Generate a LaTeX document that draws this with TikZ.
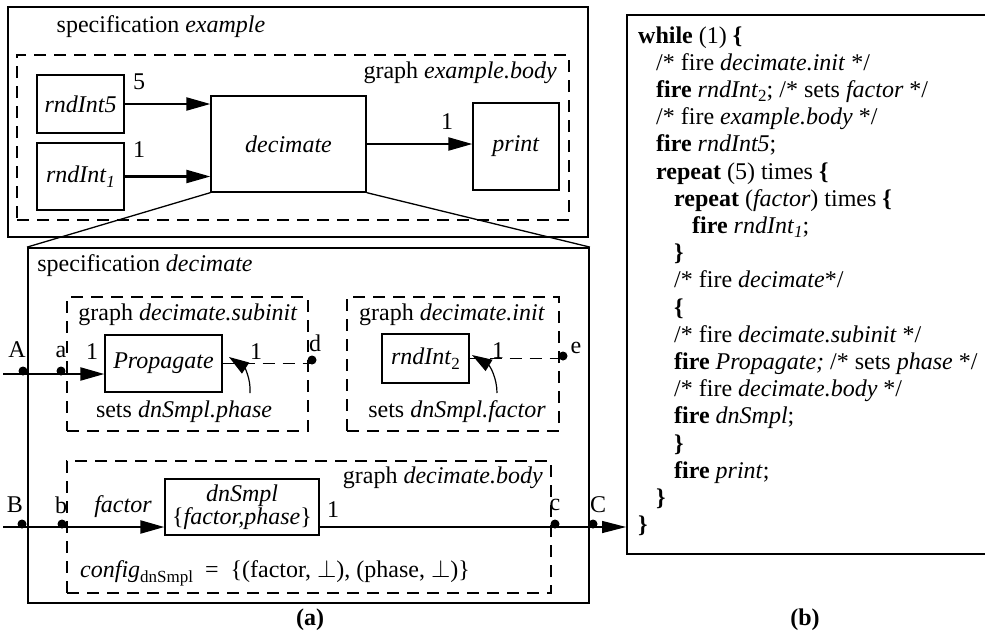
\documentclass[tikz,border=0pt]{standalone}
\usepackage{fontspec}
\setmainfont{Liberation Serif}
\usetikzlibrary{arrows.meta}
\newcommand\lowidx[1]{\raisebox{-0.4ex}{\fontsize{17}{17}\selectfont #1}}
\newcommand\codeline[3]{\node[anchor=base west] (c#1) at (#2,{43+27.2*(#1-1)}) {#3};}
\begin{document}
\begin{tikzpicture}[x=1pt,y=-1pt,
  every node/.style={font=\fontsize{24}{28}\selectfont, inner sep=0pt},
  sz/.style 2 args={minimum width=#1pt, minimum height=#2pt},
  outerbox/.style={draw, line width=1.8pt},
  elbox/.style={draw, line width=1.3pt},
  dbox/.style={draw, line width=1.3pt, dash pattern=on 12pt off 8pt},
  thickarrow/.style={line width=2.2pt, -{Triangle[length=24pt,width=13pt]}},
  thinarrow/.style={line width=1.2pt, -{Triangle[length=24pt,width=12pt]}},
  curvearrow/.style={line width=1.2pt, -{Triangle[length=20pt,width=13pt]}},
  dline/.style={line width=1.2pt, dash pattern=on 12pt off 8pt},
  portdot/.style={fill, circle, minimum size=9pt}
]
\useasboundingbox (0,0) rectangle (985,638);

% ---------- top: specification example ----------
\node[outerbox, sz={580}{230}] (specex) at (298,122) {};
\node (tspecex) at (161,27) {specification \textit{example}};
\node[dbox, sz={552}{165}] (exbody) at (293,137.5) {};
\node[anchor=east] (texbody) at (557,73) {graph \textit{example.body}};
\node[elbox, sz={87}{58}] (rnd5) at (80.5,104) {\textit{rndInt5}};
\node[elbox, sz={87}{67}] (rnd1) at (80.5,176.5) {\textit{rndInt}\lowidx{\textit{1}}};
\node[elbox, sz={155}{96}] (decimate) at (288.5,144) {\textit{decimate}};
\node[elbox, sz={86}{87}] (print) at (516,146.5) {\textit{print}};
\draw[thickarrow] (rnd5.east) -- (rnd5.east -| decimate.west);
\draw[thickarrow] (rnd1.east) -- (rnd1.east -| decimate.west);
\draw[thickarrow] (decimate.east) -- (decimate.east -| print.west);
\node (l5) at (139,82) {5};
\node (l1a) at (139,150) {1};
\node (l1b) at (447,122) {1};

% ---------- bottom: specification decimate ----------
\node[outerbox, sz={561}{355}] (specdec) at (308.5,425.5) {};
\draw[line width=1.3pt] (decimate.south west) -- (specdec.north west);
\draw[line width=1.3pt] (decimate.south east) -- (specdec.north east);
\node (tspecdec) at (145,266) {specification \textit{decimate}};

% subinit
\node[dbox, sz={241}{134}] (subinit) at (187.5,364) {};
\node (tsubinit) at (188,315) {graph \textit{decimate.subinit}};
\node[elbox, sz={117}{57}] (prop) at (163.5,363.5) {\textit{Propagate}};
\node (tphase) at (184,412) {sets \textit{dnSmpl.phase}};

% init
\node[dbox, sz={212}{134}] (init) at (453,364) {};
\node (tinit) at (452,315) {graph \textit{decimate.init}};
\node[elbox, sz={87}{49}] (rnd2) at (425.5,358.5) {\textit{rndInt}\lowidx{2}};
\node (tfactor) at (457,412) {sets \textit{dnSmpl.factor}};

% body
\node[dbox, sz={484}{132}] (body) at (309,527) {};
\node[anchor=east] (tbody) at (543,478) {graph \textit{decimate.body}};
\node[elbox, sz={154}{56}, align=center, font=\fontsize{24}{23}\selectfont] (dn) at (242,507)
  {\textit{dnSmpl}\\\{\textit{factor,phase}\}};
\node[anchor=west] (tconfig) at (80,573)
  {\textit{config}\lowidx{dnSmpl}\ \ =\ \ \{(factor, $\perp$), (phase, $\perp$)\}};

% ports and connectors
\coordinate (Ain) at (3,374);
\coordinate (Bin) at (3,527);
\coordinate (dport) at (312,363.5);
\coordinate (eport) at (563,358.5);
\coordinate (Cport) at (589,527);
\coordinate (ph0) at (250,393);
\coordinate (ph1) at (229,357);
\coordinate (fa0) at (497,393);
\coordinate (fa1) at (472,355);

\draw[thickarrow] (Ain) -- (Ain -| prop.west);
\draw[dline] (prop.east) -- (dport);
\draw[curvearrow] (ph0) .. controls (251,378) and (244,367) .. (ph1);
\draw[dline] (rnd2.east) -- (eport);
\draw[curvearrow] (fa0) .. controls (497,378) and (490,366) .. (fa1);
\draw[thickarrow] (Bin) -- (Bin -| dn.west);
\draw[line width=1.2pt] (dn.east |- Bin) -- (Cport);

\node[portdot] (pA) at (23,371) {};
\node[portdot] (pa) at (61,371) {};
\node[portdot] (pd) at (312,360) {};
\node[portdot] (pe) at (563,356) {};
\node[portdot] (pB) at (22,524) {};
\node[portdot] (pb) at (62,524) {};
\node[portdot] (pc) at (555,524) {};
\node[portdot] (pC) at (593,524) {};

\node (lA) at (17,350) {A};
\node (la) at (61,352) {a};
\node (l1c) at (92,352) {1};
\node (l1d) at (256,352) {1};
\node (ld) at (315,343) {d};
\node (l1e) at (498,351) {1};
\node (le) at (576,348) {e};
\node (lB) at (15,505) {B};
\node (lb) at (61,505) {b};
\node (lfac) at (123,507) {\textit{factor}};
\node (l1f) at (333,510) {1};
\node (lc) at (555,505) {c};
\node (lC) at (598,505) {C};

% ---------- code box ----------
\node[outerbox, sz={360}{539}] (code) at (807,284.5) {};
\draw[thinarrow] (Cport) -- (Cport -| code.west);

\codeline{1}{638}{\textbf{while} (1) \textbf{\{}}
\codeline{2}{656}{/* fire \textit{decimate.init} */}
\codeline{3}{656}{\textbf{fire} \textit{rndInt}\lowidx{2}; /* sets \textit{factor} */}
\codeline{4}{656}{/* fire \textit{example.body} */}
\codeline{5}{656}{\textbf{fire} \textit{rndInt5};}
\codeline{6}{656}{\textbf{repeat} (5) times \textbf{\{}}
\codeline{7}{674}{\textbf{repeat} (\textit{factor}) times \textbf{\{}}
\codeline{8}{692}{\textbf{fire} \textit{rndInt}\lowidx{\textit{1}};}
\codeline{9}{674}{\textbf{\}}}
\codeline{10}{674}{/* fire \textit{decimate}*/}
\codeline{11}{674}{\textbf{\{}}
\codeline{12}{674}{/* fire \textit{decimate.subinit} */}
\codeline{13}{674}{\textbf{fire} \textit{Propagate;} /* sets \textit{phase} */}
\codeline{14}{674}{/* fire \textit{decimate.body} */}
\codeline{15}{674}{\textbf{fire} \textit{dnSmpl};}
\codeline{16}{674}{\textbf{\}}}
\codeline{17}{674}{\textbf{fire} \textit{print};}
\codeline{18}{656}{\textbf{\}}}
\codeline{19}{638}{\textbf{\}}}

\node[font=\bfseries\fontsize{24}{28}\selectfont] (capa) at (310,620) {(a)};
\node[font=\bfseries\fontsize{24}{28}\selectfont] (capb) at (805,620) {(b)};
\end{tikzpicture}
\end{document}
